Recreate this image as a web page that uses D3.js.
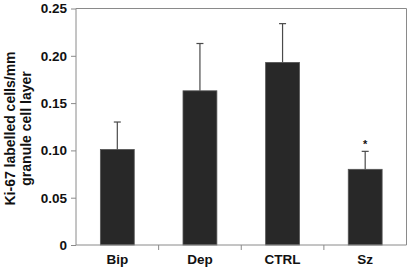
<!DOCTYPE html>
<html><head><meta charset="utf-8">
<script src="https://cdn.jsdelivr.net/npm/d3@7"></script>
<style>body{margin:0;background:#fff}svg{display:block}text{font-family:"Liberation Sans",Arial,sans-serif;font-weight:bold;fill:#111}</style>
</head><body><div id="c"></div>
<script>
const categories = ["Bip", "Dep", "CTRL", "Sz"];
const values = [0.101, 0.163, 0.193, 0.080];
const errors = [0.029, 0.050, 0.041, 0.019];
const significant = [false, false, false, true];
const yTicks = [0, 0.05, 0.10, 0.15, 0.20, 0.25];
const yTickLabels = ["0", "0.05", "0.10", "0.15", "0.20", "0.25"];

const W = 409, H = 269;
const m = {left: 76, right: 2.5, top: 8.5, bottom: 24};
const svg = d3.select("#c").append("svg").attr("width", W).attr("height", H);
const x = d3.scaleBand().domain(categories).range([m.left, W - m.right]).paddingInner(0.59).paddingOuter(0.295);
const y = d3.scaleLinear().domain([0, 0.25]).range([H - m.bottom, m.top]);
const step = x.step();
const axisCol = "#8a8a8a";

// frame (top & right)
svg.append("path").attr("d", `M${m.left},${y(0.25)}H${W - m.right}V${y(0)}`)
  .attr("fill", "none").attr("stroke", axisCol).attr("stroke-width", 1);

// bars
svg.selectAll("rect.bar").data(values).join("rect").attr("class", "bar")
  .attr("x", (d, i) => x(categories[i])).attr("width", x.bandwidth())
  .attr("y", d => y(d)).attr("height", d => y(0) - y(d))
  .attr("fill", "#282828").attr("stroke", "#555").attr("stroke-width", 0.8);

// error bars
const eb = svg.append("g").attr("stroke", "#4a4a4a").attr("stroke-width", 1.2);
values.forEach((v, i) => {
  const cx = x(categories[i]) + x.bandwidth() / 2;
  eb.append("line").attr("x1", cx).attr("x2", cx).attr("y1", y(v)).attr("y2", y(v + errors[i]));
  eb.append("line").attr("x1", cx - 3.5).attr("x2", cx + 3.5).attr("y1", y(v + errors[i])).attr("y2", y(v + errors[i]));
  if (significant[i]) {
    svg.append("text").attr("x", cx).attr("y", y(v + errors[i]) - 3).attr("text-anchor", "middle")
      .attr("font-size", 11).text("*");
  }
});

// y axis
const ya = svg.append("g").attr("transform", `translate(${m.left},0)`)
  .call(d3.axisLeft(y).tickValues(yTicks).tickFormat((d, i) => yTickLabels[i]).tickSize(5).tickPadding(4));
ya.select(".domain").attr("stroke", axisCol).attr("d", `M0,${y(0.25)}V${y(0)}`);
ya.selectAll(".tick line").attr("stroke", axisCol);
ya.selectAll(".tick text").attr("font-size", 13.5).attr("font-family", null).attr("fill", "#111");

// x axis
const xa = svg.append("g").attr("transform", `translate(0,${y(0)})`)
  .call(d3.axisBottom(x).tickSize(0).tickPadding(9));
xa.select(".domain").attr("stroke", axisCol).attr("d", `M${m.left},0H${W - m.right}`);
xa.selectAll(".tick text").attr("font-size", 13.5).attr("font-family", null).attr("fill", "#111");
// boundary ticks
const bounds = categories.slice(1).map(c => x(c) - (step - x.bandwidth()) / 2);
xa.selectAll("line.bt").data(bounds).join("line").attr("class", "bt")
  .attr("x1", d => d).attr("x2", d => d).attr("y1", 0).attr("y2", 5).attr("stroke", axisCol);

// y label
const yl = svg.append("text").attr("transform", `translate(15,128.5) rotate(-90)`)
  .attr("text-anchor", "middle").attr("font-size", 14);
yl.append("tspan").attr("x", 0).attr("dy", 0).text("Ki-67 labelled cells/mm");
yl.append("tspan").attr("x", 0).attr("dy", 15.5).text("granule cell layer");
</script></body></html>
